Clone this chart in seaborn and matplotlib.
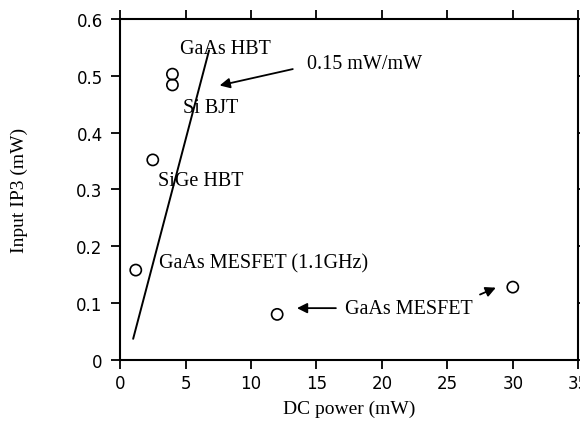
import matplotlib
matplotlib.use("Agg")
import matplotlib.pyplot as plt
import pandas as pd
import seaborn as sns
from matplotlib.ticker import FuncFormatter

# Data
power = [1.2, 2.5, 4.0, 4.0, 12.0, 30.0]
ip3 = [0.158, 0.352, 0.503, 0.484, 0.080, 0.128]
fit_power = [1.0, 6.8]
fit_ip3 = [0.037, 0.545]

x_ticks = [0, 5, 10, 15, 20, 25, 30, 35]
y_ticks = [0, 0.1, 0.2, 0.3, 0.4, 0.5, 0.6]

df = pd.DataFrame({"power": power, "ip3": ip3})
df_fit = pd.DataFrame({"power": fit_power, "ip3": fit_ip3})

sns.set_style("ticks")
plt.rcParams["font.family"] = ["DejaVu Sans"]
for k in ["text.color", "axes.labelcolor", "xtick.color", "ytick.color"]:
    plt.rcParams[k] = "black"

fig = plt.figure(figsize=(5.8, 4.27), dpi=100)
ax = fig.add_axes([0.207, 0.155, 0.790, 0.798])

sns.lineplot(data=df_fit, x="power", y="ip3", color="black", lw=1.4, ax=ax)
sns.scatterplot(data=df, x="power", y="ip3", marker="o", s=65,
                facecolor="none", edgecolor="black", linewidth=1.2, ax=ax)

ax.set_xlim(0, 35)
ax.set_ylim(0, 0.6)
ax.set_xticks(x_ticks)
ax.set_yticks(y_ticks)
ax.yaxis.set_major_formatter(FuncFormatter(lambda v, p: "0" if v == 0 else f"{v:.1f}"))
ax.tick_params(axis="both", direction="out", length=6.5, width=1.3, labelsize=12,
               colors="black")
ax.tick_params(axis="x", pad=4)
ax.tick_params(axis="y", pad=6)
ax.tick_params(top=True, right=True)
for s in ax.spines.values():
    s.set_linewidth(1.5)
    s.set_color("black")

serif = ["Liberation Serif", "DejaVu Serif"]
ax.set_xlabel("DC power (mW)", family=serif, fontsize=14)
ax.set_ylabel("Input IP3 (mW)", family=serif, fontsize=14)
ax.xaxis.set_label_coords(0.5, -0.118)
ax.yaxis.set_label_coords(-0.2, 0.5)

# annotations
fs = 14.5
ax.text(4.6, 0.548, "GaAs HBT", family=serif, fontsize=fs, va="center")
ax.text(4.8, 0.445, "Si BJT", family=serif, fontsize=fs, va="center")
ax.text(2.9, 0.315, "SiGe HBT", family=serif, fontsize=fs, va="center")
ax.text(3.0, 0.170, "GaAs MESFET (1.1GHz)", family=serif, fontsize=fs, va="center")
ax.text(17.2, 0.090, "GaAs MESFET", family=serif, fontsize=fs, va="center")
ax.text(14.3, 0.522, "0.15 mW/mW", family=serif, fontsize=fs, va="center")

arrow = dict(arrowstyle="-|>", color="black", lw=1.3, mutation_scale=15)
ax.annotate("", xy=(7.4, 0.482), xytext=(13.4, 0.513), arrowprops=arrow)
ax.annotate("", xy=(13.3, 0.091), xytext=(16.7, 0.091), arrowprops=arrow)
ax.annotate("", xy=(28.9, 0.129), xytext=(27.3, 0.113), arrowprops=arrow)

fig.savefig("out.png", dpi=100)
